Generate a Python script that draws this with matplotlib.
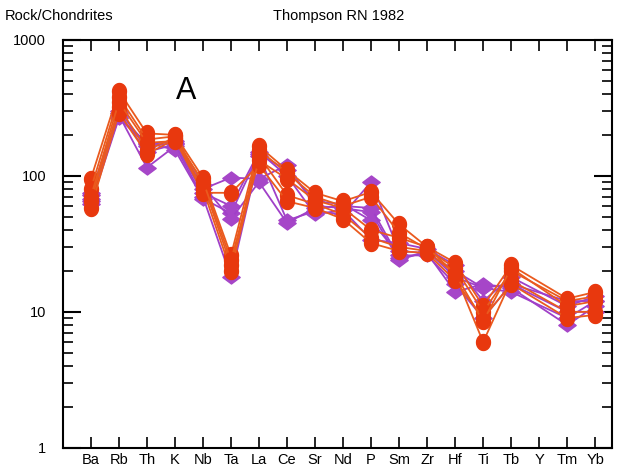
import numpy as np
import matplotlib
matplotlib.use("Agg")
import matplotlib.pyplot as plt
from matplotlib.path import Path
from matplotlib.ticker import LogLocator, NullFormatter, FixedLocator

plt.rcParams['font.family'] = ['Liberation Sans', 'DejaVu Sans']

elements = ["Ba", "Rb", "Th", "K", "Nb", "Ta", "La", "Ce", "Sr", "Nd",
            "P", "Sm", "Zr", "Hf", "Ti", "Tb", "Y", "Tm", "Yb"]
nan = np.nan

# purple diamond samples (rock / chondrite)
purple = [
    [68, 280, 115, 165, 70, 18, 140, 47, 55, 52, 90, 28, 27, 14, 16, 15, nan, 8, 11],
    [72, 300, 165, 175, 80, 97, 95, 120, 60, 58, 54, 24, 28, 18, 15, 14, nan, 9, 12],
    [65, 270, 175, 155, 68, 53, 145, 110, 65, 62, 47, 26, 26, 16, 9, 16, nan, 10, 10],
    [75, 290, 150, 170, 75, 60, 150, 100, 52, 56, 34, 32, 29, 22, 12, 18, nan, 11, 13],
    [62, 265, 170, 180, 85, 48, 90, 45, 58, 60, 58, 25, 27, 20, 15, 16, nan, 12, 12],
]

# red circle samples
red = [
    [95, 420, 205, 200, 97, 26, 165, 110, 75, 65, 76, 44, 30, 23, 11, 22, nan, 12.5, 14],
    [80, 380, 185, 195, 88, 22, 155, 105, 70, 60, 70, 38, 29, 21, 10, 20, nan, 12, 13],
    [65, 320, 155, 190, 80, 20, 140, 72, 62, 52, 35, 30, 28, 19, 6, 17, nan, 10, 10],
    [58, 290, 145, 185, 75, 75, 120, 65, 58, 48, 32, 28, 27, 17, 9, 16, nan, 9, 9.5],
    [70, 350, 175, 180, 92, 24, 130, 95, 66, 58, 40, 35, 30, 19, 8.5, 21, nan, 11, 12],
]

x = np.arange(len(elements))

# flattened diamond and slightly tall ellipse, like the original symbols
wide_diamond = Path([(0, 0.75), (1, 0), (0, -0.75), (-1, 0), (0, 0.75)],
                    [Path.MOVETO, Path.LINETO, Path.LINETO, Path.LINETO, Path.CLOSEPOLY])
t = np.linspace(0, 2 * np.pi, 60)
tall_oval = Path(np.column_stack([0.87 * np.cos(t), np.sin(t)]), closed=True)

fig = plt.figure(figsize=(6.22, 4.68), dpi=100)
ax = fig.add_axes([0.101, 0.043, 0.883, 0.872])


def draw(vals, lc, mc, marker, ms):
    v = np.array(vals, dtype=float)
    ok = ~np.isnan(v)
    ax.plot(x[ok], v[ok], color=lc, lw=1.3, marker=marker, ms=ms,
            mfc=mc, mec=mc, zorder=3)


for s in purple:
    draw(s, '#A040C8', '#A646C8', wide_diamond, 12.5)
for s in red:
    draw(s, '#EA5A1E', '#E8380E', tall_oval, 11.5)

ax.set_yscale('log')
ax.set_ylim(1, 1000)
ax.set_xlim(-1, 18.6)

ax.set_xticks(x)
ax.set_xticklabels(elements, fontsize=10.5)
ax.tick_params(axis='x', direction='in', length=8, width=1.2, top=True, pad=4)
ax.yaxis.set_major_locator(FixedLocator([1, 10, 100, 1000]))
ax.set_yticklabels(['1', '10', '100', '1000'], fontsize=10.5)
ax.yaxis.set_minor_locator(LogLocator(base=10, subs=np.arange(2, 10)))
ax.yaxis.set_minor_formatter(NullFormatter())
ax.tick_params(axis='y', which='major', direction='in', length=13, width=1.5,
               right=True, pad=12)
ax.tick_params(axis='y', which='minor', direction='in', length=7, width=1.2,
               right=True)
for sp in ax.spines.values():
    sp.set_linewidth(1.5)

fig.text(0.008, 0.965, "Rock/Chondrites", fontsize=10.5, va='center')
fig.text(0.545, 0.965, "Thompson RN 1982", fontsize=10.5, va='center', ha='center')
ax.text(0.225, 0.875, "A", transform=ax.transAxes, fontsize=22, ha='center', va='center')

fig.savefig("out.png", dpi=100)
